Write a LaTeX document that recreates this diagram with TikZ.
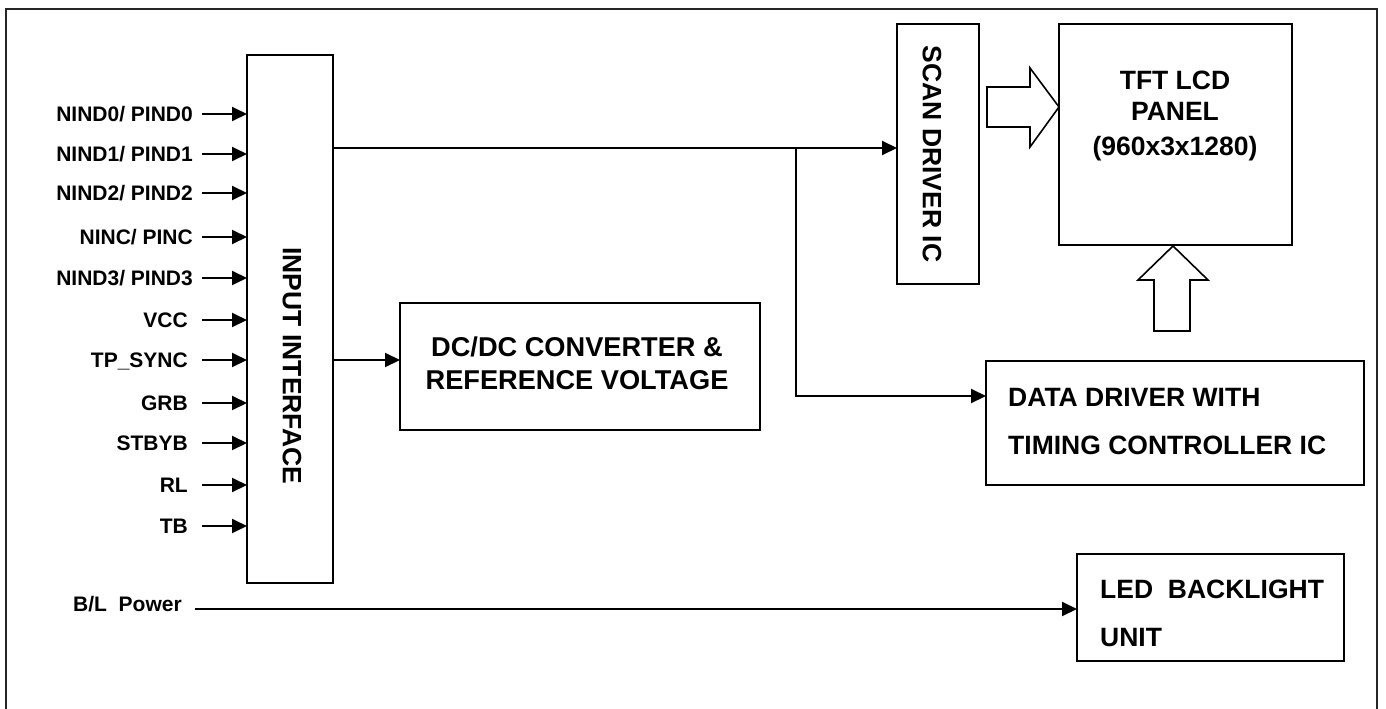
\documentclass[tikz,border=0pt]{standalone}
\usepackage{fontspec}
\setmainfont{Liberation Sans}
\usetikzlibrary{arrows.meta}
\newcommand\labfont{\fontsize{21}{25}\selectfont\bfseries}
\newcommand\boxfont{\fontsize{26.5}{32}\selectfont\bfseries}
\newcommand\dcfont{\fontsize{27.2}{32}\selectfont\bfseries}
\tikzset{
  box/.style={draw, line width=2pt, inner sep=0pt, outer sep=0pt},
  arr/.style={line width=2pt, -{Triangle[length=15pt,width=14pt]}},
  lab/.style={inner sep=0pt, font=\labfont, anchor=base east},
  btxt/.style={inner sep=0pt, font=\boxfont},
  hollow/.style={draw, line width=1.6pt, line join=miter, fill=white}
}
\begin{document}
\begin{tikzpicture}[x=1pt, y=-1pt]
\useasboundingbox (0,0) rectangle (1386,709);
\draw[line width=2pt, draw=black!85] (6,9) rectangle (1377,720);

% blocks
\node[box, minimum width=86pt, minimum height=528pt] (inif) at (290,319) {};
\node[box, minimum width=82pt, minimum height=260pt] (scan) at (938,154) {};
\node[box, minimum width=233pt, minimum height=221pt] (panel) at (1175.5,134.5) {};
\node[box, minimum width=360pt, minimum height=127pt] (dcdc) at (580,366.5) {};
\node[box, minimum width=378pt, minimum height=124pt] (data) at (1175,423) {};
\node[box, minimum width=267pt, minimum height=107pt] (led) at (1210.5,607.5) {};

% block texts
\node[btxt, rotate=-90] (inift) at (292,366) {INPUT INTERFACE};
\node[btxt, rotate=-90] (scant) at (932,154) {SCAN DRIVER IC};
\node[btxt, anchor=base] (pt1) at (1175,89.3) {TFT LCD};
\node[btxt, anchor=base] (pt2) at (1175,120.3) {PANEL};
\node[btxt, anchor=base] (pt3) at (1175,155.3) {(960x3x1280)};
\node[btxt, font=\dcfont, anchor=base] (dt1) at (577,356.5) {DC/DC CONVERTER \&};
\node[btxt, font=\dcfont, anchor=base] (dt2) at (577,389.5) {REFERENCE VOLTAGE};
\node[btxt, anchor=base west] (da1) at (1008,406.3) {DATA DRIVER WITH};
\node[btxt, anchor=base west] (da2) at (1008,454.3) {TIMING CONTROLLER IC};
\node[btxt, anchor=base west] (le1) at (1100,598.3) {LED\ \ BACKLIGHT};
\node[btxt, anchor=base west] (le2) at (1100,646.3) {UNIT};

% input labels
\node[lab] (l0) at (193,121.5) {NIND0/ PIND0};
\node[lab] (l1) at (193,161.5) {NIND1/ PIND1};
\node[lab] (l2) at (193,200.5) {NIND2/ PIND2};
\node[lab] (l3) at (193,244.5) {NINC/ PINC};
\node[lab] (l4) at (193,285.5) {NIND3/ PIND3};
\node[lab] (l5) at (188,327.5) {VCC};
\node[lab] (l6) at (188,367.5) {TP\_SYNC};
\node[lab] (l7) at (188,410.5) {GRB};
\node[lab] (l8) at (188,450.5) {STBYB};
\node[lab] (l9) at (188,492.5) {RL};
\node[lab] (l10) at (188,533.5) {TB};
\node[lab, anchor=base west] (bl) at (73,611.5) {B/L\ \ Power};

\coordinate (c0) at (202,114);
\coordinate (c1) at (202,154);
\coordinate (c2) at (202,193);
\coordinate (c3) at (202,237);
\coordinate (c4) at (202,278);
\coordinate (c5) at (202,320);
\coordinate (c6) at (202,360);
\coordinate (c7) at (202,403);
\coordinate (c8) at (202,443);
\coordinate (c9) at (202,485);
\coordinate (c10) at (202,526);
\foreach \i in {0,...,10} {
  \draw[arr] (c\i) -- (c\i -| inif.west);
}

% connectors
\coordinate (j) at (796,148);
\coordinate (jd) at (796,396);
\coordinate (k) at (333,148);
\coordinate (dc) at (333,360);
\coordinate (bls) at (195,609);
\draw[arr] (inif.east |- k) -- (scan.west |- k);
\draw[arr] (j) -- (jd) -- (jd -| data.west);
\draw[arr] (inif.east |- dc) -- (dcdc.west |- dc);
\draw[arr] (bls) -- (bls -| led.west);

% hollow arrows
\draw[hollow] (987,87) -- (1030,87) -- (1030,68) -- (1059,107) -- (1030,147) -- (1030,127) -- (987,127) -- cycle;
\draw[hollow] (1154,331) -- (1154,280) -- (1138,280) -- (1173,246) -- (1208,280) -- (1190,280) -- (1190,331) -- cycle;
\end{tikzpicture}
\end{document}
